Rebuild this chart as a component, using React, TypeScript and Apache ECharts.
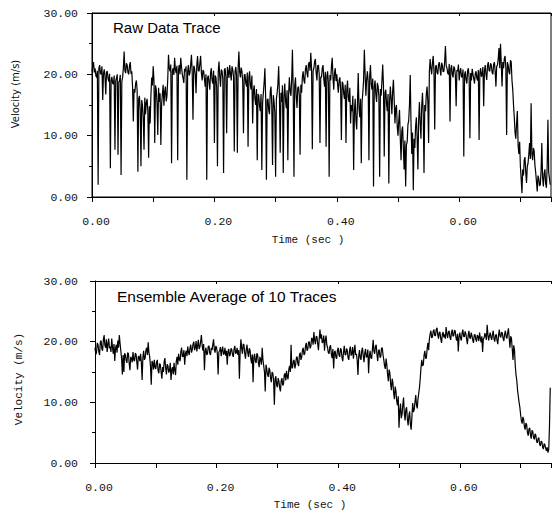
import React, { useEffect, useRef } from 'react';
import * as echarts from 'echarts';

// Sampling step of both traces (seconds)
const SAMPLE_STEP = 0.00125;

const X_MIN = 0;
const X_MAX = 0.75;
const Y_MIN = 0;
const Y_MAX = 30;

const TOP_TITLE = 'Raw Data Trace';
const BOTTOM_TITLE = 'Ensemble Average of 10 Traces';
const X_NAME = 'Time (sec )';
const Y_NAME = 'Velocity (m/s)';

// Raw velocity trace (m/s)
const rawTrace: number[] = [
  20.5, 21.2, 22, 20.3, 21, 19.8, 19.5, 20.6, 2.0, 21.0, 21.5, 20.2, 20, 21.3, 15.8, 20.1, 20.8, 19.6, 16.7, 20.4,
  20.5, 19.3, 18.8, 20.1, 4.7, 19.0, 19.6, 18.5, 18.4, 19.8, 7.7, 18.9, 19.4, 20.0, 6.9, 18.7, 19.0, 19.9, 3.6, 18.8,
  19.5, 21.0, 23.7, 20.6, 20.2, 21.8, 21.5, 20.3, 20.0, 21.4, 22.0, 20.1, 20.5, 18.0, 12.3, 17.6, 17.0, 18.5, 19.0, 17.4,
  4.1, 16.0, 16.5, 14.2, 5.0, 15.8, 15.0, 13.0, 7.7, 16.2, 13.5, 15.4, 16.0, 14.0, 6.4, 14.8, 12.0, 16.5, 19.5, 18.2,
  21.3, 19.0, 8.8, 18.2, 17.5, 15.3, 10.1, 17.8, 15.5, 16.9, 8.5, 15.2, 16.8, 18.3, 14.9, 17.2, 18.0, 15.6, 16.5, 19.2,
  23.2, 21.0, 20.5, 21.6, 5.5, 20.4, 21.0, 19.9, 22.7, 20.8, 20.2, 21.4, 6.0, 20.6, 21.5, 20.0, 22.7, 21.2, 20.0, 19.4,
  18.6, 20.9, 20.5, 21.3, 2.8, 20.4, 21.5, 19.8, 20.2, 21.6, 23.2, 20.3, 12.6, 21.4, 21.0, 20.0, 16.9, 21.5, 23.0, 20.6,
  20.5, 21.8, 23.0, 20.2, 19.0, 20.7, 20.5, 19.2, 18.0, 20.0, 2.8, 19.4, 19.8, 18.6, 17.5, 20.3, 21.0, 19.0, 18.5, 20.6,
  8.8, 19.8, 19.5, 17.8, 5.0, 20.4, 22.1, 19.6, 18.0, 20.8, 20.5, 19.3, 3.9, 20.7, 21.0, 19.5, 10.4, 21.2, 20.5, 19.4,
  21.5, 20.1, 19.0, 21.3, 20.8, 19.6, 7.4, 20.5, 21.2, 19.8, 7.2, 20.9, 23.7, 20.4, 19.5, 21.1, 20.5, 18.8, 10.4, 19.9,
  20.0, 18.6, 18.0, 20.3, 8.2, 19.5, 20.5, 18.2, 17.5, 19.8, 12.0, 17.3, 18.2, 16.0, 15.0, 17.6, 6.0, 16.8, 16.5, 14.8,
  14.0, 16.8, 4.4, 15.3, 17.0, 18.6, 21.0, 16.2, 2.8, 15.8, 16.0, 14.2, 13.5, 17.2, 18.0, 15.0, 5.2, 16.6, 15.5, 13.8,
  3.3, 16.0, 17.0, 18.4, 21.3, 16.5, 7.2, 17.0, 15.5, 18.2, 3.9, 16.3, 18.5, 15.6, 14.5, 17.4, 6.0, 16.8, 19.5, 17.2,
  16.5, 19.0, 24.0, 17.5, 3.3, 18.2, 19.5, 16.4, 14.5, 17.8, 18.0, 16.6, 6.9, 18.3, 17.0, 19.6, 20.5, 19.0, 18.5, 20.8,
  21.5, 20.2, 19.5, 21.7, 22.0, 20.6, 23.5, 21.0, 7.8, 20.5, 21.0, 22.1, 22.5, 20.3, 19.0, 21.4, 21.5, 20.0, 8.8, 19.6,
  19.5, 21.0, 21.5, 19.2, 18.0, 20.4, 8.2, 19.7, 20.5, 18.6, 3.3, 19.9, 19.0, 21.3, 22.7, 19.5, 17.5, 20.2, 21.0, 18.9,
  20.0, 18.4, 17.0, 19.0, 19.5, 17.6, 9.3, 18.8, 18.5, 16.9, 16.0, 18.3, 8.8, 17.4, 19.0, 16.2, 15.5, 17.8, 12.0, 15.0,
  14.0, 16.5, 4.4, 13.8, 16.0, 12.5, 11.0, 15.2, 20.2, 14.5, 13.0, 16.0, 5.5, 15.5, 17.0, 19.0, 24.0, 20.0, 16.5, 19.2,
  20.5, 18.8, 6.0, 19.6, 21.5, 18.4, 17.5, 19.3, 1.7, 18.0, 19.0, 16.8, 15.5, 18.6, 18.0, 16.4, 3.3, 17.6, 16.5, 19.0,
  21.6, 18.2, 6.6, 17.0, 17.5, 15.2, 14.0, 16.8, 2.2, 15.5, 18.0, 16.0, 13.5, 17.2, 19.1, 15.8, 12.0, 14.5, 15.0, 11.5,
  10.0, 12.5, 14.2, 9.5, 6.0, 10.8, 11.5, 8.0, 4.5, 9.2, 1.7, 8.5, 9.0, 11.8, 12.5, 15.0, 19.9, 12.0, 7.0, 10.5,
  1.1, 9.5, 8.0, 11.5, 13.0, 9.8, 4.5, 12.6, 15.5, 12.0, 9.5, 14.8, 17.0, 13.5, 3.9, 15.0, 14.0, 16.8, 18.0, 15.6,
  8.8, 20.5, 22.5, 21.0, 20.0, 21.8, 23.0, 20.6, 11.0, 21.2, 21.5, 20.3, 20.0, 21.6, 22.0, 20.8, 19.8, 21.9, 21.5, 20.4,
  20.5, 22.0, 24.6, 21.4, 21.0, 20.2, 20.0, 21.7, 12.3, 20.9, 21.5, 20.0, 19.5, 21.3, 21.0, 19.8, 14.8, 20.7, 20.5, 21.6,
  19.0, 20.4, 21.0, 19.6, 19.5, 20.8, 6.6, 19.9, 20.5, 19.1, 18.5, 20.6, 21.0, 19.4, 9.6, 20.2, 19.0, 20.9, 20.0, 19.3,
  18.5, 20.1, 20.5, 19.4, 19.0, 20.7, 9.3, 20.3, 21.0, 19.6, 20.0, 21.2, 14.8, 20.5, 21.5, 20.0, 19.1, 21.4, 22.0, 20.6,
  20.5, 21.8, 21.5, 20.3, 20.0, 21.6, 22.0, 20.5, 18.0, 21.3, 21.5, 22.5, 24.3, 21.0, 25.0, 21.8, 18.0, 22.0, 21.0, 22.6,
  23.0, 21.0, 10.1, 22.0, 21.5, 20.4, 20.0, 22.3, 22.0, 19.0, 17.5, 15.0, 13.0, 10.5, 9.5, 12.0, 14.0, 8.5, 7.0, 9.0,
  5.0, 3.0, 0.6, 4.5, 3.5, 6.0, 6.5, 4.0, 2.3, 5.0, 5.5, 7.0, 8.8, 6.2, 15.3, 7.0, 6.0, 8.0, 7.5, 5.2,
  4.0, 2.5, 0.9, 3.5, 3.0, 1.8, 2.0, 4.2, 8.8, 3.2, 1.7, 3.8, 4.5, 2.2, 1.5, 5.0, 12.6, 4.0, 3.0, 2.0,
];

// Ensemble-averaged velocity trace (m/s)
const averageTrace: number[] = [
  19.0, 17.9, 18.2, 19.8, 19.5, 18.4, 17.8, 19.9, 20.2, 18.8, 18.5, 20.3, 21.1, 19.4, 19.0, 20.4, 18.3, 19.6, 20.5, 18.9,
  19.2, 18.3, 20.5, 19.1, 18.0, 19.6, 16.8, 18.9, 19.5, 18.2, 20.2, 19.0, 21.1, 19.7, 18.5, 17.2, 14.6, 17.8, 15.0, 18.1,
  17.8, 16.9, 16.5, 18.2, 18.0, 16.4, 15.3, 17.5, 17.2, 16.6, 18.3, 17.0, 16.8, 18.1, 17.9, 16.7, 15.4, 17.6, 17.5, 16.8,
  18.0, 16.6, 13.7, 17.4, 18.5, 17.0, 17.3, 18.6, 19.0, 17.8, 19.9, 18.2, 17.5, 16.0, 12.9, 16.8, 16.5, 15.4, 17.0, 15.8,
  15.5, 16.6, 17.0, 15.2, 14.8, 16.4, 16.2, 15.0, 13.9, 15.8, 15.0, 16.7, 17.3, 15.6, 14.6, 16.3, 16.0, 14.9, 15.2, 16.5,
  13.7, 15.4, 15.8, 14.6, 16.5, 15.3, 14.5, 16.8, 17.5, 16.2, 18.0, 17.1, 16.8, 18.4, 19.0, 17.5, 17.6, 18.6, 16.2, 18.0,
  18.5, 17.6, 19.2, 18.3, 17.8, 19.0, 19.5, 18.2, 18.7, 19.6, 20.0, 18.6, 19.0, 20.1, 18.4, 19.4, 20.3, 18.8, 19.1, 20.0,
  21.1, 19.4, 18.5, 19.6, 15.3, 18.4, 19.0, 17.8, 18.0, 19.2, 19.3, 18.1, 17.8, 19.0, 18.6, 19.5, 20.4, 18.7, 18.2, 19.3,
  19.0, 18.0, 14.6, 18.3, 18.5, 19.1, 17.6, 18.6, 19.2, 17.9, 18.0, 19.0, 17.7, 18.5, 16.2, 18.4, 18.8, 17.6, 17.9, 18.9,
  18.7, 17.8, 17.5, 18.8, 19.3, 18.0, 18.2, 19.0, 17.8, 18.6, 13.9, 18.4, 20.4, 18.9, 18.0, 19.6, 19.5, 18.1, 17.2, 18.7,
  19.5, 18.2, 17.5, 18.9, 18.6, 17.2, 16.4, 17.9, 13.3, 17.4, 18.0, 16.8, 16.5, 18.1, 17.8, 16.5, 15.8, 17.5, 17.0, 16.2,
  19.0, 17.0, 16.0, 15.0, 11.8, 16.2, 15.5, 14.6, 14.2, 15.7, 15.3, 14.0, 13.3, 15.0, 14.8, 13.6, 9.6, 13.9, 14.3, 12.8,
  12.5, 14.0, 13.5, 12.4, 11.8, 13.6, 14.0, 12.8, 13.0, 14.5, 14.8, 13.6, 15.2, 14.2, 13.8, 15.4, 16.0, 15.0, 19.5, 15.6,
  15.8, 16.8, 17.0, 15.6, 16.2, 17.4, 17.5, 16.3, 16.0, 17.8, 18.2, 17.0, 17.5, 18.6, 19.0, 17.8, 18.0, 19.3, 19.8, 18.5,
  18.8, 19.9, 20.0, 18.9, 19.2, 20.6, 20.5, 19.5, 21.6, 20.2, 19.6, 20.9, 20.8, 19.7, 18.6, 20.4, 22.0, 20.5, 21.2, 19.8,
  20.0, 21.0, 18.5, 20.2, 21.0, 19.5, 19.0, 18.2, 18.0, 19.2, 19.4, 17.9, 17.3, 18.8, 15.6, 18.2, 18.5, 17.4, 17.2, 18.6,
  19.0, 17.8, 17.5, 18.9, 18.7, 17.4, 16.8, 18.3, 19.3, 17.9, 17.8, 18.9, 18.5, 17.3, 17.0, 18.6, 19.2, 17.7, 18.0, 19.1,
  17.2, 18.4, 19.5, 17.8, 18.0, 16.9, 14.5, 17.6, 18.6, 17.3, 17.0, 18.5, 19.0, 17.6, 16.6, 18.2, 18.8, 17.4, 17.6, 18.7,
  14.8, 17.6, 18.5, 17.3, 17.2, 18.8, 20.3, 18.4, 18.0, 19.2, 19.5, 17.9, 16.8, 18.5, 18.7, 17.4, 17.5, 18.9, 19.0, 17.8,
  17.0, 16.0, 15.5, 17.2, 16.2, 14.6, 13.5, 15.4, 14.8, 13.0, 12.0, 13.9, 13.2, 11.5, 10.5, 12.6, 11.8, 10.2, 9.5, 11.0,
  5.8, 8.6, 9.8, 7.4, 8.0, 9.6, 10.8, 8.2, 7.0, 8.8, 9.2, 7.3, 6.2, 7.8, 8.5, 6.4, 5.5, 7.6, 9.9, 8.4,
  8.8, 10.0, 11.2, 9.6, 9.0, 10.6, 11.5, 12.5, 14.0, 15.8, 17.0, 16.0, 16.2, 17.8, 18.5, 17.2, 17.3, 18.8, 19.8, 18.6,
  20.5, 21.3, 21.8, 20.6, 20.8, 21.7, 22.0, 21.0, 21.0, 22.0, 22.3, 21.1, 20.5, 21.6, 21.5, 20.4, 19.8, 21.2, 21.6, 20.7,
  21.2, 20.5, 22.4, 21.3, 20.6, 21.6, 21.8, 20.7, 20.3, 21.5, 22.0, 20.9, 21.0, 21.9, 21.7, 20.6, 20.2, 21.3, 18.4, 20.8,
  21.5, 20.6, 20.2, 21.4, 22.0, 20.9, 20.8, 21.7, 21.3, 20.4, 19.6, 21.0, 21.8, 20.7, 20.5, 21.5, 21.0, 20.3, 19.8, 21.1,
  21.2, 20.4, 20.0, 21.1, 20.8, 20.1, 21.5, 20.6, 19.9, 20.9, 18.3, 20.5, 20.6, 21.4, 21.0, 20.3, 22.8, 21.2, 20.2, 21.0,
  21.5, 20.7, 20.3, 21.2, 21.8, 20.5, 20.0, 21.0, 21.2, 20.2, 19.6, 21.1, 22.0, 20.9, 20.7, 21.6, 21.4, 20.5, 20.1, 21.3,
  21.8, 20.8, 20.5, 21.5, 22.2, 20.6, 19.0, 20.9, 20.5, 18.8, 17.0, 19.4, 18.6, 16.0, 14.5, 13.6, 12.0, 11.0, 10.0, 9.2,
  8.0, 7.0, 6.5, 7.6, 7.2, 6.0, 5.5, 6.6, 6.3, 5.0, 4.5, 5.6, 5.8, 4.6, 4.0, 5.4, 5.2, 4.2, 3.9, 4.8,
  4.6, 3.6, 3.3, 4.0, 4.2, 3.1, 2.8, 3.6, 3.5, 2.6, 2.3, 3.2, 3.0, 2.4, 2.0, 2.6, 1.7, 2.2, 6.0, 12.4,
];

const toPairs = (values: number[]) => values.map((v, i) => [i * SAMPLE_STEP, v]);

const MONO = '"Liberation Mono", "DejaVu Sans Mono", monospace';
const SANS = '"Liberation Sans", Arial, sans-serif';
const INK = '#111';

const xLabelFormatter = (v: number) => {
  const k = Math.round(v * 100);
  return k % 20 === 0 ? (k / 100).toFixed(2) : '';
};

function bottomXAxis(gridIndex: number) {
  return {
    type: 'value',
    gridIndex,
    position: 'bottom',
    min: X_MIN,
    max: X_MAX,
    interval: 0.1,
    axisLine: { show: true, onZero: false, lineStyle: { color: '#000', width: 1 } },
    axisTick: { show: true, length: 5, lineStyle: { color: '#000', width: 1 } },
    axisLabel: {
      formatter: xLabelFormatter, fontFamily: MONO, fontSize: 11.5, color: INK, margin: 18,
      padding: [0, 0, 0, 8],
    },
    splitLine: { show: false },
  };
}

function topXAxis(gridIndex: number) {
  return {
    type: 'value',
    gridIndex,
    position: 'top',
    min: X_MIN,
    max: X_MAX,
    interval: 0.2,
    axisLine: { show: true, onZero: false, lineStyle: { color: '#000', width: 1 } },
    axisTick: { show: true, inside: true, length: 3, lineStyle: { color: '#000' } },
    axisLabel: { show: false },
    splitLine: { show: false },
  };
}

function leftYAxis(gridIndex: number, margin: number) {
  return {
    type: 'value',
    gridIndex,
    min: Y_MIN,
    max: Y_MAX,
    interval: 10,
    axisLine: { show: true, onZero: false, lineStyle: { color: '#000', width: 1 } },
    axisTick: { show: true, length: 5, lineStyle: { color: '#000' } },
    minorTick: { show: true, splitNumber: 2, length: 3, lineStyle: { color: '#000' } },
    axisLabel: { formatter: (v: number) => v.toFixed(2), fontFamily: MONO, fontSize: 11.5, color: INK, margin },
    splitLine: { show: false },
    minorSplitLine: { show: false },
  };
}

export default function App() {
  const ref = useRef<HTMLDivElement>(null);
  useEffect(() => {
    if (!ref.current) return;
    const chart = echarts.init(ref.current, null, { renderer: 'svg' });
    const option: any = {
      animation: false,
      backgroundColor: '#fff',
      title: [
        {
          text: TOP_TITLE, left: 113, top: 19, padding: 0,
          textStyle: { fontFamily: SANS, fontSize: 15, fontWeight: 'normal', color: '#000', lineHeight: 16 },
        },
        {
          text: BOTTOM_TITLE, left: 117, top: 288, padding: 0,
          textStyle: { fontFamily: SANS, fontSize: 15.5, fontWeight: 'normal', color: '#000', lineHeight: 16 },
        },
      ],
      grid: [
        { left: 92, top: 13, width: 461, height: 184, show: true, borderColor: '#000', borderWidth: 1, backgroundColor: 'transparent' },
        { left: 95, top: 281, width: 458, height: 182 },
      ],
      xAxis: [bottomXAxis(0), topXAxis(0), bottomXAxis(1), topXAxis(1)],
      yAxis: [leftYAxis(0, 14), leftYAxis(1, 17)],
      series: [
        {
          type: 'line', xAxisIndex: 0, yAxisIndex: 0, data: toPairs(rawTrace),
          showSymbol: false, symbol: 'none', lineStyle: { color: '#000', width: 1.2 }, silent: true,
        },
        {
          type: 'line', xAxisIndex: 2, yAxisIndex: 1, data: toPairs(averageTrace),
          showSymbol: false, symbol: 'none', lineStyle: { color: '#000', width: 1.2 }, silent: true,
        },
      ],
      graphic: [
        {
          type: 'text', x: 15, y: 94, rotation: Math.PI / 2,
          style: { text: Y_NAME, font: '10px "DejaVu Sans", sans-serif', fill: INK, align: 'center', verticalAlign: 'middle', textAlign: 'center', textVerticalAlign: 'middle' },
        },
        {
          type: 'text', x: 19, y: 379, rotation: Math.PI / 2,
          style: { text: Y_NAME, font: '11px "Liberation Mono", monospace', fill: INK, align: 'center', verticalAlign: 'middle', textAlign: 'center', textVerticalAlign: 'middle' },
        },
        {
          type: 'text', x: 308, y: 240,
          style: { text: X_NAME, font: '11px "Liberation Mono", monospace', fill: INK, align: 'center', verticalAlign: 'middle', textAlign: 'center', textVerticalAlign: 'middle' },
        },
        {
          type: 'text', x: 310, y: 505,
          style: { text: X_NAME, font: '11px "Liberation Mono", monospace', fill: INK, align: 'center', verticalAlign: 'middle', textAlign: 'center', textVerticalAlign: 'middle' },
        },
      ],
    };
    chart.setOption(option);
    return () => chart.dispose();
  }, []);
  return <div ref={ref} style={{ position: 'absolute', left: 0, top: 0, width: 554, height: 516 }} />;
}
